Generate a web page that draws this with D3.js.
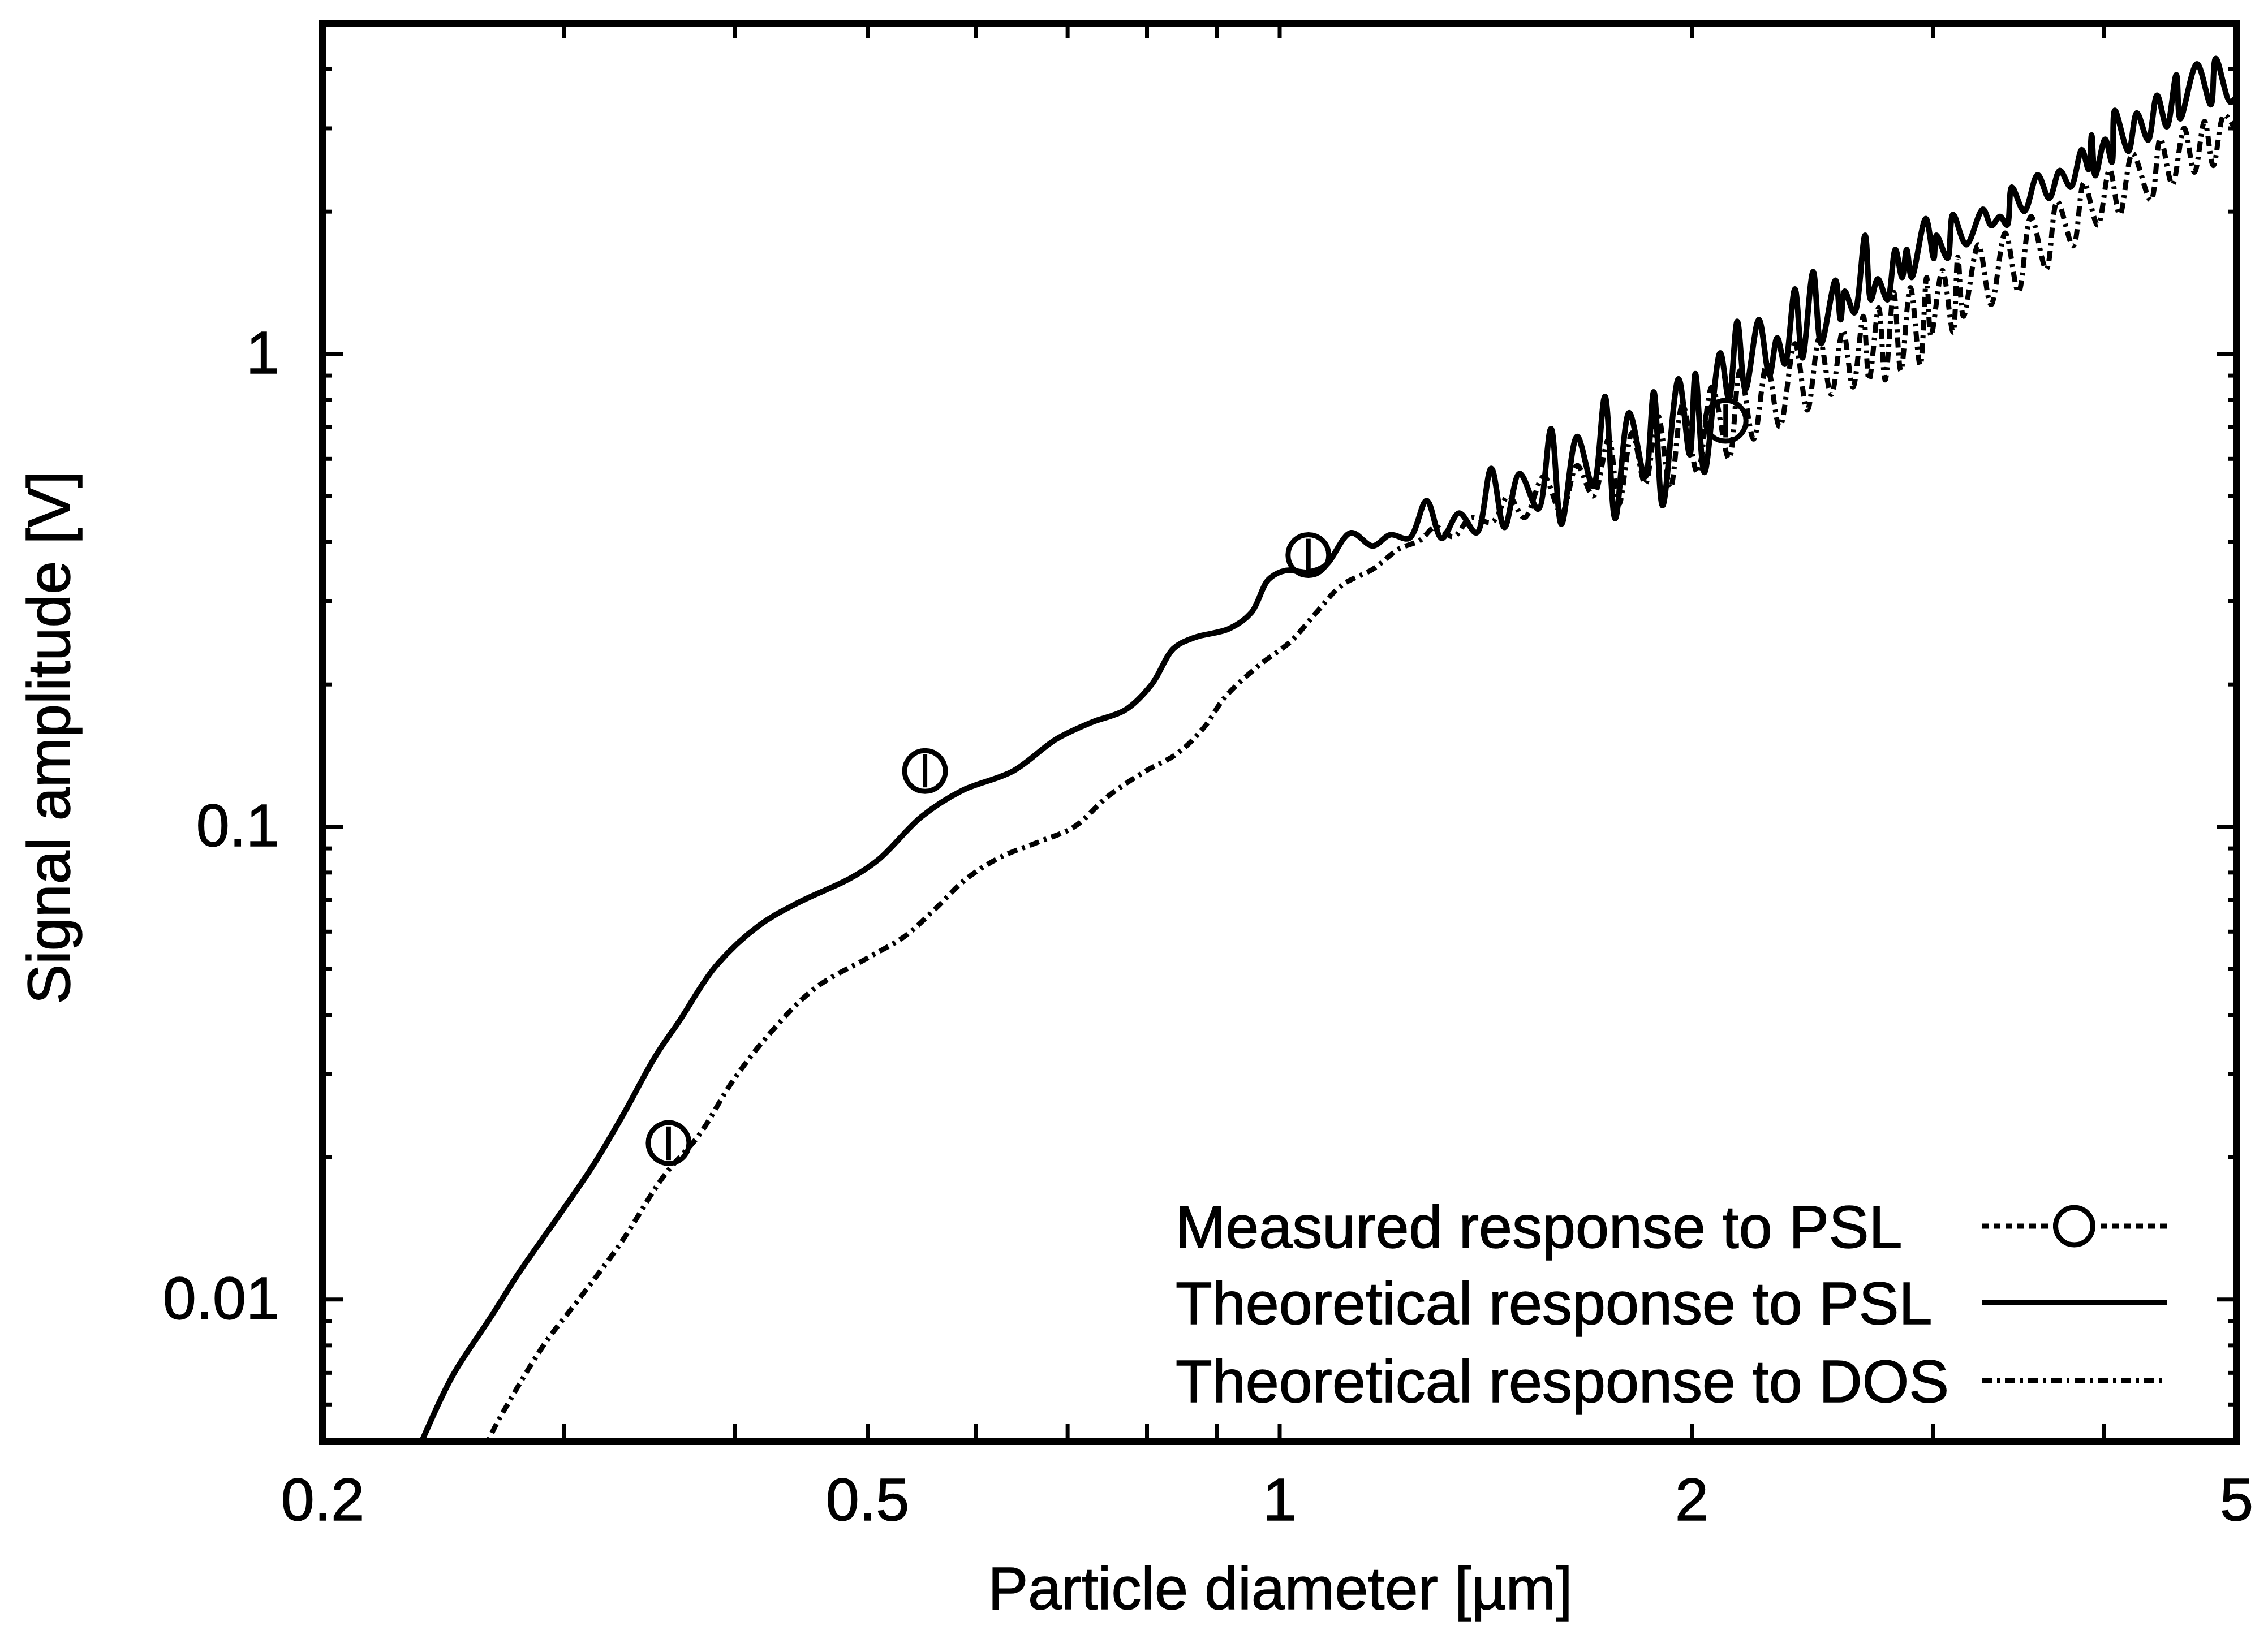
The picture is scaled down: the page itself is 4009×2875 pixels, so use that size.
<!DOCTYPE html>
<html>
<head>
<meta charset="utf-8">
<script src="https://cdn.jsdelivr.net/npm/d3@7"></script>
<style>
  body { margin: 0; background: #fff; }
  svg text { font-family: "Liberation Sans", Arial, Helvetica, sans-serif; fill: #000; stroke: #000; stroke-width: 1.5px; }
</style>
</head>
<body>
<div id="chart"></div>
<script>
// values (x in µm, y in V)
const pslTheoryX = [0.237,0.249,0.265,0.279,0.297,0.315,0.332,0.350,0.365,0.387,0.417,0.446,0.486,0.510,0.548,0.586,0.639,0.687,0.729,0.772,0.807,0.837,0.867,0.919,0.954,0.982,1.011,1.048,1.080,1.128,1.170,1.205,1.244,1.281,1.314,1.353,1.393,1.428,1.460,1.498,1.545,1.579,1.607,1.650,1.695,1.729,1.759,1.801,1.850,1.877,1.905,1.957,1.994,2.013,2.044,2.099,2.13,2.16,2.19,2.24,2.28,2.31,2.34,2.38,2.41,2.454,2.487,2.548,2.570,2.588,2.630,2.678,2.704,2.736,2.780,2.818,2.850,2.872,2.896,2.966,3.006,3.02,3.076,3.105,3.175,3.265,3.312,3.36,3.40,3.428,3.50,3.58,3.65,3.716,3.784,3.856,3.90,3.92,3.944,4.01,4.056,4.076,4.17,4.23,4.31,4.376,4.448,4.52,4.55,4.68,4.79,4.83,4.95,5.0];
const pslTheoryY = [0.0051,0.0069,0.0091,0.0115,0.0149,0.0191,0.0247,0.0326,0.039,0.0504,0.0618,0.0692,0.0777,0.0853,0.105,0.119,0.131,0.153,0.166,0.1765,0.200,0.238,0.251,0.262,0.2835,0.333,0.348,0.345,0.356,0.418,0.392,0.414,0.407,0.489,0.407,0.460,0.418,0.572,0.429,0.558,0.469,0.694,0.436,0.668,0.524,0.812,0.448,0.750,0.549,0.830,0.477,0.885,0.611,0.907,0.561,1.004,0.80,1.17,0.84,1.18,0.90,1.08,0.95,1.37,0.98,1.49,1.05,1.43,1.18,1.355,1.22,1.78,1.30,1.44,1.30,1.66,1.45,1.66,1.45,1.93,1.59,1.78,1.59,1.97,1.70,2.02,1.865,1.95,1.87,2.25,2.00,2.39,2.13,2.44,2.25,2.70,2.45,2.90,2.38,2.84,2.54,3.27,2.68,3.23,2.83,3.52,3.02,3.89,3.14,4.10,3.36,4.21,3.40,3.5];

const dosTheoryX = [0.265,0.274,0.291,0.307,0.330,0.355,0.377,0.398,0.423,0.458,0.502,0.533,0.561,0.590,0.625,0.668,0.708,0.750,0.795,0.843,0.881,0.913,0.968,1.019,1.064,1.111,1.170,1.222,1.267,1.30,1.34,1.38,1.43,1.47,1.51,1.56,1.607,1.65,1.695,1.74,1.77,1.81,1.85,1.89,1.93,1.97,2.02,2.07,2.13,2.17,2.22,2.27,2.32,2.38,2.43,2.48,2.53,2.58,2.624,2.67,2.696,2.74,2.77,2.81,2.844,2.89,2.938,2.97,2.992,3.05,3.105,3.13,3.16,3.24,3.31,3.39,3.466,3.54,3.632,3.70,3.80,3.87,3.96,4.04,4.11,4.20,4.33,4.40,4.49,4.58,4.66,4.74,4.81,4.90,5.0];
const dosTheoryY = [0.0051,0.0061,0.0081,0.0099,0.0131,0.0182,0.0223,0.0287,0.0361,0.0455,0.0530,0.0587,0.0671,0.0773,0.086,0.0929,0.0998,0.116,0.130,0.143,0.162,0.188,0.220,0.246,0.2835,0.324,0.350,0.386,0.403,0.43,0.41,0.45,0.44,0.50,0.45,0.55,0.46,0.58,0.50,0.66,0.48,0.68,0.53,0.74,0.52,0.78,0.56,0.85,0.60,0.92,0.66,0.95,0.70,1.05,0.76,1.08,0.82,1.12,0.85,1.20,0.88,1.25,0.88,1.35,0.92,1.38,0.945,1.45,1.09,1.50,1.11,1.60,1.20,1.70,1.27,1.80,1.35,1.95,1.51,2.10,1.69,2.30,1.87,2.45,1.97,2.65,2.11,2.85,2.28,3.00,2.42,3.10,2.50,3.20,2.95];

const measuredX = [0.358, 0.551, 1.050, 2.118];
const measuredY = [0.0214, 0.131, 0.375, 0.721];
const measuredLo = [0.0197, 0.121, 0.346, 0.665];
const measuredHi = [0.0232, 0.142, 0.406, 0.781];

const xTicks = [0.2,0.3,0.4,0.5,0.6,0.7,0.8,0.9,1,2,3,4,5];
const xTickLabels = {0.2: "0.2", 0.5: "0.5", 1: "1", 2: "2", 5: "5"};
const yMajorTicks = [0.01, 0.1, 1];
const yMajorLabels = ["0.01", "0.1", "1"];
const yMinorTicks = [0.005,0.006,0.007,0.008,0.009,0.02,0.03,0.04,0.05,0.06,0.07,0.08,0.09,0.2,0.3,0.4,0.5,0.6,0.7,0.8,0.9,2,3,4,5];

const legendLabels = ["Measured response to PSL", "Theoretical response to PSL", "Theoretical response to DOS"];

const W = 4009, H = 2875;
const plotLeft = 570, plotRight = 3953, plotTop = 41, plotBottom = 2549;
const fontSize = 106;

const svg = d3.select("#chart").append("svg")
    .attr("width", W)
    .attr("height", H);

const xScale = d3.scaleLog().domain([0.2, 5]).range([plotLeft, plotRight]);
const yScale = d3.scaleLog().domain([0.005, 5]).range([plotBottom, plotTop]);

svg.append("clipPath").attr("id", "plot-clip")
    .append("rect")
    .attr("x", plotLeft).attr("y", plotTop)
    .attr("width", plotRight - plotLeft).attr("height", plotBottom - plotTop);

// axes (ticks point inward like gnuplot)
const xAxisBottom = d3.axisBottom(xScale).tickValues(xTicks).tickSizeInner(-32).tickSizeOuter(0).tickPadding(64)
    .tickFormat(d => xTickLabels[d] || "");
const xAxisTop = d3.axisTop(xScale).tickValues(xTicks).tickSizeInner(-26).tickSizeOuter(0).tickFormat("");
const yAxisLeft = d3.axisLeft(yScale).tickValues(yMajorTicks).tickSizeInner(-36).tickSizeOuter(0).tickPadding(76)
    .tickFormat((d, i) => yMajorLabels[i]);
const yMinorLeft = d3.axisLeft(yScale).tickValues(yMinorTicks).tickSizeInner(-16).tickSizeOuter(0).tickFormat("");
const yAxisRight = d3.axisRight(yScale).tickValues(yMajorTicks).tickSizeInner(-34).tickSizeOuter(0).tickFormat("");
const yMinorRight = d3.axisRight(yScale).tickValues(yMinorTicks).tickSizeInner(-15).tickSizeOuter(0).tickFormat("");

svg.append("g").attr("class", "x-axis").attr("transform", `translate(0,${plotBottom})`).call(xAxisBottom);
svg.append("g").attr("class", "x-axis-top").attr("transform", `translate(0,${plotTop})`).call(xAxisTop);
svg.append("g").attr("class", "y-axis").attr("transform", `translate(${plotLeft},0)`).call(yAxisLeft);
svg.append("g").attr("class", "y-minor").attr("transform", `translate(${plotLeft},0)`).call(yMinorLeft);
svg.append("g").attr("class", "y-axis-right").attr("transform", `translate(${plotRight},0)`).call(yAxisRight);
svg.append("g").attr("class", "y-minor-right").attr("transform", `translate(${plotRight},0)`).call(yMinorRight);

svg.selectAll(".domain").remove();
svg.selectAll(".tick line").attr("stroke", "#000").attr("stroke-width", 7);
svg.selectAll(".tick text")
    .attr("font-size", fontSize)
    .style("font-family", "'Liberation Sans', Arial, sans-serif")
    .attr("fill", "#000");

// frame
svg.append("rect")
    .attr("x", plotLeft).attr("y", plotTop)
    .attr("width", plotRight - plotLeft).attr("height", plotBottom - plotTop)
    .attr("fill", "none").attr("stroke", "#000").attr("stroke-width", 12);

const plot = svg.append("g").attr("clip-path", "url(#plot-clip)");

const line = d3.line()
    .x(d => xScale(d[0]))
    .y(d => yScale(d[1]))
    .curve(d3.curveCatmullRom.alpha(0.5));

const dosData = dosTheoryX.map((x, i) => [x, dosTheoryY[i]]);
const pslData = pslTheoryX.map((x, i) => [x, pslTheoryY[i]]);

// extend curves below the axis so they leave through the bottom edge
dosData.unshift([0.255, 0.0038]);
pslData.unshift([0.227, 0.0038]);

plot.append("path")
    .datum(dosData)
    .attr("d", line)
    .attr("fill", "none")
    .attr("stroke", "#000")
    .attr("stroke-width", 9)
    .attr("stroke-dasharray", "18,9,5,9");

plot.append("path")
    .datum(pslData)
    .attr("d", line)
    .attr("fill", "none")
    .attr("stroke", "#000")
    .attr("stroke-width", 10)
    .attr("stroke-linejoin", "round");

// measured points with error bars
const markers = plot.selectAll(".measured")
    .data(measuredX)
    .enter()
    .append("g")
    .attr("class", "measured");

markers.append("line")
    .attr("x1", d => xScale(d))
    .attr("x2", d => xScale(d))
    .attr("y1", (d, i) => yScale(measuredLo[i]))
    .attr("y2", (d, i) => yScale(measuredHi[i]))
    .attr("stroke", "#000")
    .attr("stroke-width", 8);

markers.append("circle")
    .attr("cx", d => xScale(d))
    .attr("cy", (d, i) => yScale(measuredY[i]))
    .attr("r", 36)
    .attr("fill", "none")
    .attr("stroke", "#000")
    .attr("stroke-width", 9);

// axis titles
svg.append("text")
    .attr("x", 2263)
    .attr("y", 2845)
    .attr("text-anchor", "middle")
    .attr("font-size", fontSize)
    .text("Particle diameter [µm]");

svg.append("text")
    .attr("transform", "translate(123,1304) rotate(-90)")
    .attr("text-anchor", "middle")
    .attr("font-size", fontSize)
    .text("Signal amplitude [V]");

// legend
const legendX = 2078, sampleX1 = 3503, sampleX2 = 3830;
const legendRowY = [2168, 2303, 2441];
const sampleDash = ["12,9", null, "18,9,5,9"];

const legend = svg.append("g").attr("class", "legend");
legendLabels.forEach((label, i) => {
    legend.append("text")
        .attr("x", legendX)
        .attr("y", legendRowY[i] + 38)
        .attr("font-size", fontSize)
        .text(label);
    legend.append("line")
        .attr("x1", sampleX1).attr("x2", sampleX2)
        .attr("y1", legendRowY[i]).attr("y2", legendRowY[i])
        .attr("stroke", "#000")
        .attr("stroke-width", i === 1 ? 10 : 9)
        .attr("stroke-dasharray", sampleDash[i]);
});
legend.append("circle")
    .attr("cx", (sampleX1 + sampleX2) / 2)
    .attr("cy", legendRowY[0])
    .attr("r", 33)
    .attr("fill", "#fff")
    .attr("stroke", "#000")
    .attr("stroke-width", 9);
</script>
</body>
</html>
